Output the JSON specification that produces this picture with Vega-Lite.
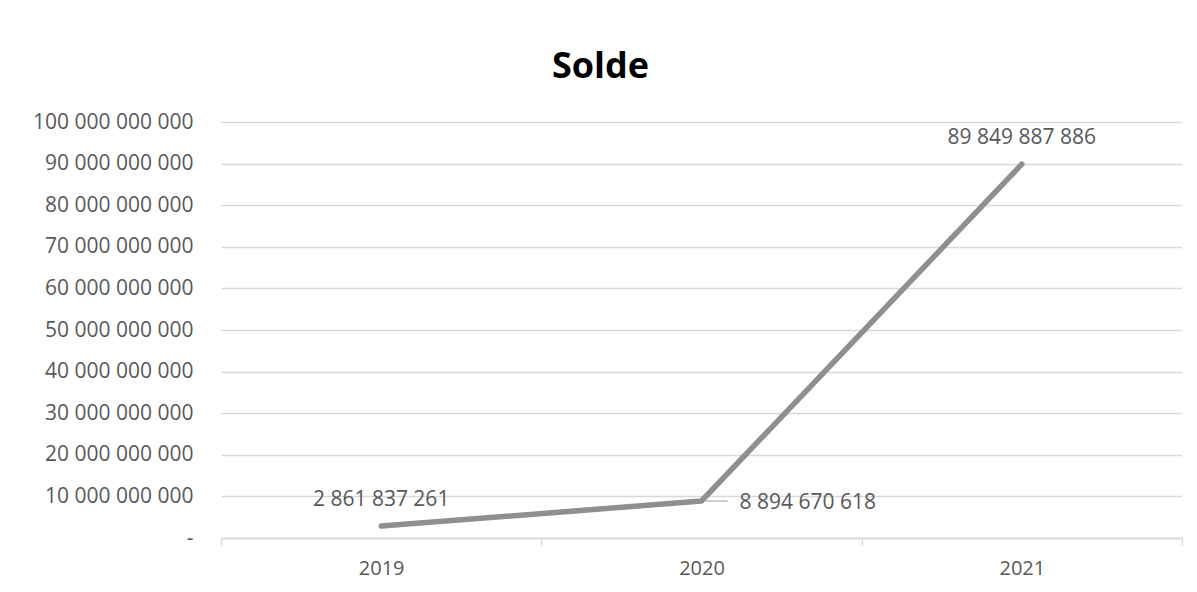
{
  "$schema": "https://vega.github.io/schema/vega-lite/v6.json",
  "autosize": "none",
  "width": 961,
  "height": 416,
  "padding": {"left": 221, "top": 122, "right": 15, "bottom": 54},
  "background": "white",
  "title": {
    "text": "Solde",
    "font": "Open Sans",
    "fontSize": 36,
    "fontWeight": "bold",
    "color": "#000000",
    "anchor": "middle",
    "dx": -101,
    "offset": 25
  },
  "data": {
    "values": [
      {"year": "2019", "solde": 2861837261, "label": "2 861 837 261"},
      {"year": "2020", "solde": 8894670618, "label": "8 894 670 618"},
      {"year": "2021", "solde": 89849887886, "label": "89 849 887 886"}
    ]
  },
  "encoding": {
    "x": {
      "field": "year",
      "type": "ordinal",
      "bandPosition": 0.5,
      "scale": {"type": "band", "paddingInner": 0, "paddingOuter": 0},
      "axis": {
        "title": null,
        "labelAngle": 0,
        "tickBand": "extent",
        "domainColor": "#d9d9d9",
        "domainWidth": 1.3,
        "tickColor": "#d9d9d9",
        "tickWidth": 1.3,
        "tickSize": 7,
        "labelPadding": 13,
        "labelFont": "Open Sans",
        "labelFontSize": 20,
        "labelColor": "#595959",
        "grid": false
      }
    },
    "y": {
      "field": "solde",
      "type": "quantitative",
      "scale": {"domain": [0, 100000000000], "nice": false},
      "axis": {
        "title": null,
        "values": [0, 10000000000, 20000000000, 30000000000, 40000000000, 50000000000, 60000000000, 70000000000, 80000000000, 90000000000, 100000000000],
        "labelExpr": "datum.value == 0 ? '-' : replace(format(datum.value, ',.0f'), /,/g, ' ')",
        "domain": false,
        "ticks": false,
        "grid": true,
        "gridColor": "#d9d9d9",
        "gridWidth": 1.3,
        "labelPadding": 28,
        "labelFont": "Open Sans",
        "labelFontSize": 21,
        "labelColor": "#595959"
      }
    }
  },
  "layer": [
    {
      "mark": {"type": "line", "color": "#8f8f8f", "strokeWidth": 5.5, "strokeCap": "round", "strokeJoin": "round"}
    },
    {
      "transform": [{"filter": "datum.year == '2020'"}],
      "mark": {"type": "rule", "color": "#bfbfbf", "strokeWidth": 1.5, "xOffset": 4, "x2Offset": 26},
      "encoding": {
        "x2": {"field": "year"},
        "y": {"field": "solde", "type": "quantitative"}
      }
    },
    {
      "transform": [{"filter": "datum.year != '2020'"}],
      "mark": {"type": "text", "baseline": "alphabetic", "dy": -20, "font": "Open Sans", "fontSize": 21, "color": "#595959"},
      "encoding": {"text": {"field": "label"}}
    },
    {
      "transform": [{"filter": "datum.year == '2020'"}],
      "mark": {"type": "text", "align": "left", "baseline": "middle", "dx": 38, "dy": 2, "font": "Open Sans", "fontSize": 21, "color": "#595959"},
      "encoding": {"text": {"field": "label"}}
    }
  ],
  "config": {
    "view": {"stroke": null}
  }
}
